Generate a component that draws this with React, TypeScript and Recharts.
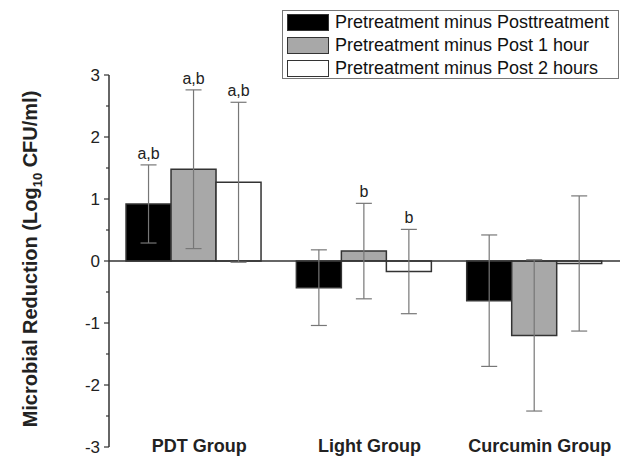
import { BarChart, Bar, XAxis, YAxis, ErrorBar, ReferenceLine, LabelList } from 'recharts';

const categories = ['PDT Group', 'Light Group', 'Curcumin Group'];

const seriesNames = [
  'Pretreatment minus Posttreatment',
  'Pretreatment minus Post 1 hour',
  'Pretreatment minus Post 2 hours',
];

const postValues = [0.92, -0.43, -0.64];
const postErrors = [0.63, 0.61, 1.06];
const postNotes = ['a,b', '', ''];

const hour1Values = [1.48, 0.16, -1.2];
const hour1Errors = [1.28, 0.77, 1.22];
const hour1Notes = ['a,b', 'b', ''];

const hour2Values = [1.27, -0.17, -0.04];
const hour2Errors = [1.29, 0.68, 1.09];
const hour2Notes = ['a,b', 'b', ''];

const yTicks = [-3, -2.5, -2, -1.5, -1, -0.5, 0, 0.5, 1, 1.5, 2, 2.5, 3];

const data = categories.map((name, i) => ({
  name,
  post: postValues[i],
  postErr: postErrors[i],
  postNote: postNotes[i],
  h1: hour1Values[i],
  h1Err: hour1Errors[i],
  h1Note: hour1Notes[i],
  h2: hour2Values[i],
  h2Err: hour2Errors[i],
  h2Note: hour2Notes[i],
}));

const fills = ['#000000', '#a8a8a8', '#ffffff'];
const font = '"Liberation Sans", Arial, sans-serif';
const axisColor = '#333';

const YTick = (props: any) => {
  const { x, y, payload } = props;
  const major = Number.isInteger(payload.value);
  return (
    <g>
      <line x1={x - (major ? 5 : 3)} x2={x} y1={y} y2={y} stroke={axisColor} strokeWidth={1.2} />
      {major && (
        <text x={x - 9} y={y} dy={6} textAnchor="end" fontSize={17} fill="#222" fontFamily={font}>
          {payload.value}
        </text>
      )}
    </g>
  );
};

const XTick = (props: any) => {
  const { x, y, payload } = props;
  return (
    <text x={x + 5} y={y + 5} textAnchor="middle" fontSize={18} fontWeight="bold" fill="#222" fontFamily={font}>
      {payload.value}
    </text>
  );
};

// note sits above the top whisker of the error bar
const makeNote = (values: number[], errors: number[]) => (props: any) => {
  const { x, y, width, height, value, index } = props;
  if (!value) return null;
  const v = values[index];
  const zero = y + height;
  const ppu = height / v;
  const top = zero - (v + errors[index]) * ppu;
  return (
    <text x={x + width / 2} y={top - 6} textAnchor="middle" fontSize={16} fill="#222" fontFamily={font}>
      {value}
    </text>
  );
};

const LegendBox = () => (
  <div
    style={{
      position: 'absolute',
      left: 282,
      top: 10,
      width: 337,
      height: 69,
      border: '1px solid #777',
      background: '#fff',
      fontFamily: font,
      fontSize: 18,
      color: '#111',
      boxSizing: 'border-box',
      paddingTop: 0,
    }}
  >
    {seriesNames.map((s, i) => (
      <div key={s} style={{ display: 'flex', alignItems: 'center', height: 23 }}>
        <span
          style={{
            display: 'inline-block',
            width: 42,
            height: 17,
            marginLeft: 4,
            marginRight: 6,
            background: fills[i],
            border: '1.5px solid #333',
            boxSizing: 'border-box',
          }}
        />
        <span style={{ lineHeight: '23px' }}>{s}</span>
      </div>
    ))}
  </div>
);

export default function App() {
  return (
    <div style={{ position: 'absolute', left: 0, top: 0, width: 621, height: 457, background: '#fff' }}>
      <BarChart
        width={621}
        height={457}
        data={data}
        margin={{ top: 75, right: 1, bottom: 0, left: 0 }}
        barCategoryGap="10%"
        barGap={0}
      >
        <XAxis
          dataKey="name"
          height={10}
          axisLine={false}
          tickLine={false}
          tickSize={0}
          tickMargin={0}
          tick={<XTick />}
          interval={0}
        />
        <YAxis
          width={109}
          domain={[-3, 3]}
          ticks={yTicks}
          interval={0}
          axisLine={{ stroke: axisColor, strokeWidth: 1.5 }}
          tickLine={false}
          tickSize={0}
          tickMargin={0}
          tick={<YTick />}
          label={{
            content: () => (
              <text
                x={37}
                y={259}
                transform="rotate(-90 37 259)"
                textAnchor="middle"
                fontSize={20}
                fontWeight="bold"
                fill="#222"
                fontFamily={font}
              >
                Microbial Reduction (Log
                <tspan fontSize={13} dy={5}>10</tspan>
                <tspan dy={-5}> CFU/ml)</tspan>
              </text>
            ),
          }}
        />
        <ReferenceLine y={0} stroke={axisColor} strokeWidth={1.5} />
        <Bar dataKey="post" name={seriesNames[0]} fill={fills[0]} stroke={axisColor} strokeWidth={1.5} isAnimationActive={false}>
          <ErrorBar dataKey="postErr" width={8} stroke="#777" strokeWidth={1.2} />
          <LabelList dataKey="postNote" content={makeNote(postValues, postErrors)} />
        </Bar>
        <Bar dataKey="h1" name={seriesNames[1]} fill={fills[1]} stroke={axisColor} strokeWidth={1.5} isAnimationActive={false}>
          <ErrorBar dataKey="h1Err" width={8} stroke="#777" strokeWidth={1.2} />
          <LabelList dataKey="h1Note" content={makeNote(hour1Values, hour1Errors)} />
        </Bar>
        <Bar dataKey="h2" name={seriesNames[2]} fill={fills[2]} stroke={axisColor} strokeWidth={1.5} isAnimationActive={false}>
          <ErrorBar dataKey="h2Err" width={8} stroke="#777" strokeWidth={1.2} />
          <LabelList dataKey="h2Note" content={makeNote(hour2Values, hour2Errors)} />
        </Bar>
      </BarChart>
      <LegendBox />
    </div>
  );
}
